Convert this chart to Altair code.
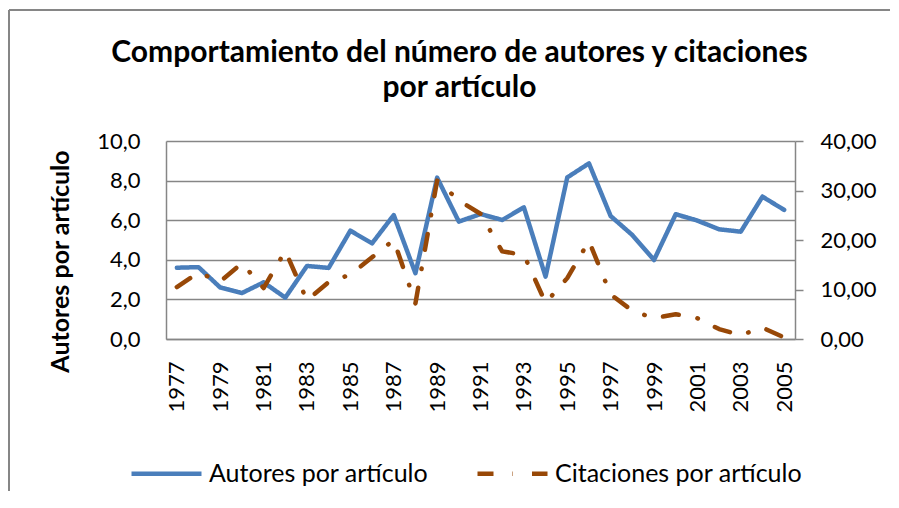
import altair as alt
import pandas as pd

years = list(range(1977, 2006))
autores = [3.6, 3.63, 2.6, 2.32, 2.86, 2.09, 3.69, 3.59, 5.47, 4.83, 6.26, 3.32, 8.15, 5.93,
           6.31, 6.01, 6.65, 3.15, 8.16, 8.87, 6.21, 5.25, 3.99, 6.3, 5.98, 5.54, 5.42, 7.19, 6.52]
citaciones = [10.5, 13.4, 11.6, 15.3, 10.3, 17.8, 7.8, 11.5, 13.0, 16.5, 20.0, 7.2, 32.0, 28.0,
              25.3, 17.7, 17.0, 7.3, 12.3, 19.8, 9.0, 5.7, 4.2, 5.0, 4.2, 2.0, 0.8, 2.3, 0.3]
series = ["Autores por artículo", "Citaciones por artículo"]
title_lines = ["Comportamiento del número de autores y citaciones", "por artículo"]
left_ticks = [0, 2, 4, 6, 8, 10]
right_ticks = [0, 10, 20, 30, 40]
year_labels = [str(y) for y in range(1977, 2006, 2)]

df_a = pd.DataFrame({"year": [str(y) for y in years], "valor": autores, "serie": series[0]})
df_c = pd.DataFrame({"year": [str(y) for y in years], "valor": citaciones, "serie": series[1]})

FONT = "Lato"
GRAY = "#868686"
BLUE = "#4A7EBB"
BROWN = "#984807"

x_enc = alt.X("year:O", sort=[str(y) for y in years],
              axis=alt.Axis(values=year_labels, labelAngle=-90, ticks=False, labelPadding=22,
                            title=None, domainColor=GRAY, domainWidth=1.5,
                            labelFont=FONT, labelFontSize=22, labelColor="black"))

color_enc = alt.Color("serie:N", scale=alt.Scale(domain=series, range=[BLUE, BROWN]),
                      legend=alt.Legend(title=None, orient="none", direction="horizontal",
                                        legendX=-37, legendY=295, symbolType="stroke",
                                        symbolSize=4900, symbolStrokeWidth=4.5,
                                        labelFont=FONT, labelFontSize=25, labelColor="black",
                                        labelLimit=0, labelOffset=5, columnPadding=39))
dash_enc = alt.StrokeDash("serie:N", scale=alt.Scale(domain=series, range=[[1, 0], [16, 19, 0.5, 19]]),
                          legend=None)

line_a = alt.Chart(df_a).mark_line(strokeWidth=4.5, strokeCap="round", strokeJoin="round").encode(
    x=x_enc,
    y=alt.Y("valor:Q", scale=alt.Scale(domain=[0, 10], nice=False),
            axis=alt.Axis(values=left_ticks, ticks=False, labelPadding=26, grid=True,
                          gridColor=GRAY, gridWidth=1.5, domainColor=GRAY, domainWidth=1.5,
                          labelExpr="replace(format(datum.value, '.1f'), '.', ',')",
                          labelFont=FONT, labelFontSize=22, labelColor="black",
                          title="Autores por artículo", titleFont=FONT, titleFontSize=25,
                          titleFontWeight="bold", titleColor="black", titleAngle=-90,
                          titleX=-106, titleY=120, titleAlign="center", titleBaseline="middle")),
    color=color_enc,
    strokeDash=dash_enc,
)

line_c = alt.Chart(df_c).mark_line(strokeWidth=4.5, strokeCap="round", strokeJoin="round").encode(
    x=x_enc,
    y=alt.Y("valor:Q", scale=alt.Scale(domain=[0, 40], nice=False),
            axis=alt.Axis(orient="right", values=right_ticks, grid=False, ticks=True, tickSize=8,
                          tickColor=GRAY, tickWidth=1.5, labelPadding=17,
                          domainColor=GRAY, domainWidth=1.5,
                          labelExpr="replace(format(datum.value, '.2f'), '.', ',')",
                          labelFont=FONT, labelFontSize=22, labelColor="black", title=None)),
    color=color_enc,
    strokeDash=dash_enc,
)

frame_src = pd.DataFrame({"k": [0]})
frame_top = alt.Chart(frame_src).mark_rule(stroke=GRAY, strokeWidth=2).encode(
    x=alt.value(-157), x2=alt.value(724), y=alt.value(-131))
frame_left = alt.Chart(frame_src).mark_rule(stroke=GRAY, strokeWidth=2).encode(
    x=alt.value(-157), y=alt.value(-131), y2=alt.value(400))

chart = alt.layer(frame_top, frame_left, line_a, line_c).resolve_scale(y="independent").properties(
    width=629, height=198,
    autosize=alt.AutoSizeParams(type="none"),
    padding={"left": 158, "top": 133, "right": 96, "bottom": 152},
    title=alt.Title(title_lines, font=FONT, fontSize=30, fontWeight="bold", color="black",
                    anchor="middle", frame="group", dx=-21, dy=118, offset=0,
                    baseline="alphabetic", lineHeight=35),
).configure_view(stroke=None).configure_axis(labelFlush=False)

chart.save("out.html", embed_options={"renderer": "svg", "actions": False})
